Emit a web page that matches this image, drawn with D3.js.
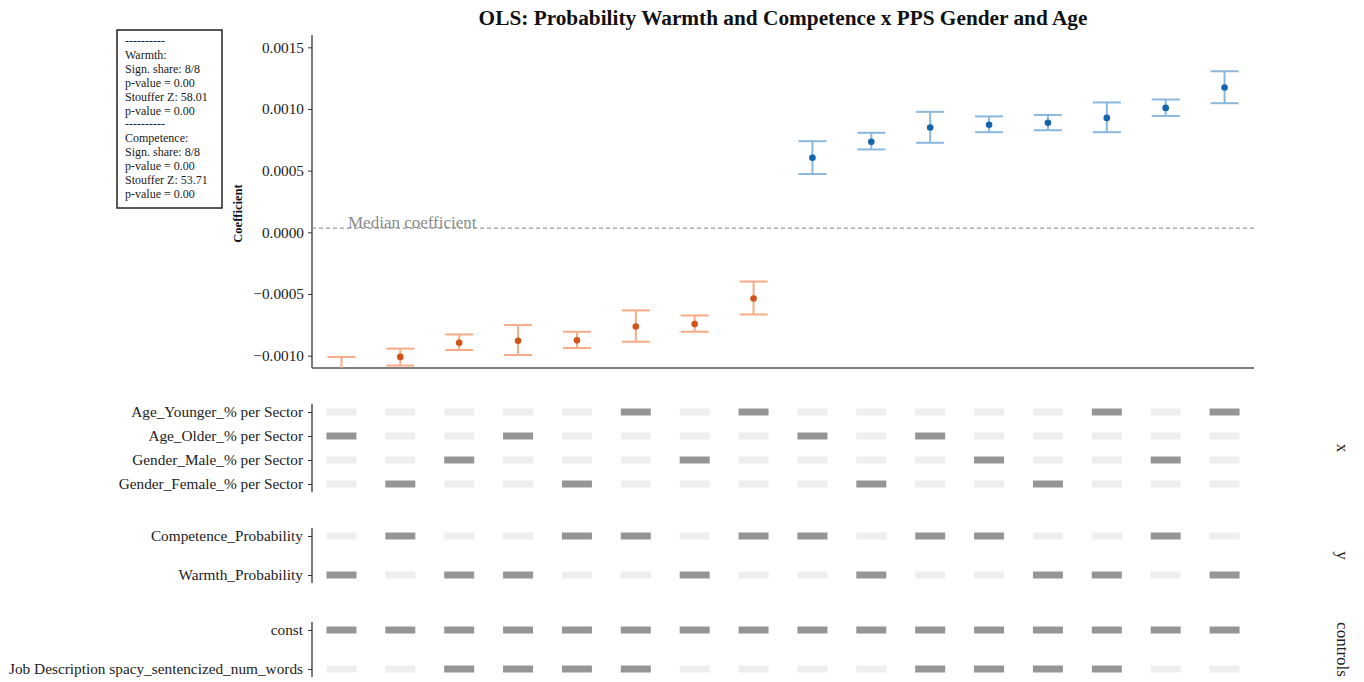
<!DOCTYPE html>
<html>
<head>
<meta charset="utf-8">
<script src="https://cdn.jsdelivr.net/npm/d3@7"></script>
<style>
  html, body { margin: 0; padding: 0; background: #fff; }
  svg { display: block; font-family: "Liberation Serif", "DejaVu Serif", serif; }
</style>
</head>
<body>
<svg id="chart" width="1364" height="682"></svg>
<script>
// Specification curve: coefficient estimates with 95% intervals
const specIds   = d3.range(1, 17);
const coef      = [-0.00114, -0.00101, -0.000895, -0.00088, -0.000876, -0.000763, -0.000744, -0.000536,
                   0.000605, 0.000734, 0.00085, 0.000872, 0.000888, 0.000928, 0.001009, 0.001174];
const ciLow     = [-0.00127, -0.00108, -0.000954, -0.000995, -0.000938, -0.000887, -0.000806, -0.000666,
                   0.000473, 0.000672, 0.000726, 0.000812, 0.000828, 0.000812, 0.000944, 0.001047];
const ciHigh    = [-0.00101, -0.000943, -0.000828, -0.000752, -0.000806, -0.000633, -0.000674, -0.000399,
                   0.000739, 0.000807, 0.000977, 0.00094, 0.000952, 0.001053, 0.001077, 0.001306];
const yTicks    = [-0.0010, -0.0005, 0.0000, 0.0005, 0.0010, 0.0015];

// Specification indicators (1 = included in that specification)
const xRows     = ["Age_Younger_% per Sector", "Age_Older_% per Sector", "Gender_Male_% per Sector", "Gender_Female_% per Sector"];
const xMatrix   = [
  [0,0,0,0,0,1,0,1,0,0,0,0,0,1,0,1],
  [1,0,0,1,0,0,0,0,1,0,1,0,0,0,0,0],
  [0,0,1,0,0,0,1,0,0,0,0,1,0,0,1,0],
  [0,1,0,0,1,0,0,0,0,1,0,0,1,0,0,0]
];
const yRows     = ["Competence_Probability", "Warmth_Probability"];
const yMatrix   = [
  [0,1,0,0,1,1,0,1,1,0,1,1,0,0,1,0],
  [1,0,1,1,0,0,1,0,0,1,0,0,1,1,0,1]
];
const ctrlRows  = ["const", "Job Description spacy_sentencized_num_words"];
const ctrlMatrix = [
  [1,1,1,1,1,1,1,1,1,1,1,1,1,1,1,1],
  [0,0,1,1,1,1,0,0,0,0,1,1,1,1,0,0]
];
const groupNames = ["x", "y", "controls"];

const summaryLines = [
  "----------", "Warmth:", "Sign. share: 8/8", "p-value = 0.00", "Stouffer Z: 58.01", "p-value = 0.00",
  "----------", "Competence:", "Sign. share: 8/8", "p-value = 0.00", "Stouffer Z: 53.71", "p-value = 0.00"
];

const svg = d3.select("#chart");
const plotL = 312, plotR = 1254, plotT = 35, plotB = 368;
const labelSize = 15.3;

const x = d3.scaleBand().domain(specIds).range([plotL, plotR]).paddingInner(0).paddingOuter(0);
const cx = d => x(d) + x.bandwidth() / 2;
const y = d3.scaleLinear().domain([-0.0011, 0.0016]).range([plotB, plotT]);

// Title
svg.append("text")
  .attr("x", 783).attr("y", 25)
  .attr("text-anchor", "middle")
  .attr("font-weight", "bold")
  .attr("font-size", 21.3)
  .attr("fill", "#111")
  .text("OLS: Probability Warmth and Competence x PPS Gender and Age");

// Y axis
const yAxis = d3.axisLeft(y).tickValues(yTicks).tickSize(4).tickPadding(4)
  .tickFormat(d => d3.format(".4f")(d).replace("-", "\u2212"));
const gy = svg.append("g").attr("transform", `translate(${plotL},0)`).call(yAxis);
gy.select(".domain").attr("stroke", "#333").attr("stroke-width", 1.3).attr("d", `M0,${plotT}V${plotB}`);
gy.selectAll(".tick line").attr("stroke", "#333");
gy.selectAll(".tick text").attr("font-size", labelSize).attr("fill", "#222")
  .attr("font-family", "Liberation Serif, serif");

// X baseline
svg.append("line")
  .attr("x1", plotL).attr("x2", plotR).attr("y1", plotB).attr("y2", plotB)
  .attr("stroke", "#555").attr("stroke-width", 1.5);

// Y axis title
svg.append("text")
  .attr("transform", `translate(242,${(plotT + plotB) / 2 + 12}) rotate(-90)`)
  .attr("text-anchor", "middle")
  .attr("font-weight", "bold")
  .attr("font-size", 12.5)
  .attr("fill", "#111")
  .text("Coefficient");

// Median reference line
const median = d3.median(coef);
svg.append("line")
  .attr("x1", plotL).attr("x2", plotR)
  .attr("y1", y(median)).attr("y2", y(median))
  .attr("stroke", "#999").attr("stroke-width", 1.1).attr("stroke-dasharray", "4,3");
svg.append("text")
  .attr("x", 348).attr("y", y(median) - 0.5)
  .attr("font-size", 17)
  .attr("fill", "#8a8a8a")
  .text("Median coefficient");

// Estimates, clipped to the plot area
svg.append("defs").append("clipPath").attr("id", "plotClip")
  .append("rect").attr("x", plotL).attr("y", plotT).attr("width", plotR - plotL).attr("height", plotB - plotT);

const est = specIds.map((id, i) => ({ id, c: coef[i], lo: ciLow[i], hi: ciHigh[i] }));
const barColor = d => d.c < 0 ? "#f6aa86" : "#8ab8dd";
const dotColor = d => d.c < 0 ? "#d2541a" : "#1565ad";
const capHalf = 14;

const gEst = svg.append("g").attr("clip-path", "url(#plotClip)");
const eg = gEst.selectAll("g.est").data(est).join("g").attr("class", "est");
eg.append("line")
  .attr("x1", d => cx(d.id)).attr("x2", d => cx(d.id))
  .attr("y1", d => y(d.lo)).attr("y2", d => y(d.hi))
  .attr("stroke", barColor).attr("stroke-width", 2);
eg.append("line")
  .attr("x1", d => cx(d.id) - capHalf).attr("x2", d => cx(d.id) + capHalf)
  .attr("y1", d => y(d.lo)).attr("y2", d => y(d.lo))
  .attr("stroke", barColor).attr("stroke-width", 2);
eg.append("line")
  .attr("x1", d => cx(d.id) - capHalf).attr("x2", d => cx(d.id) + capHalf)
  .attr("y1", d => y(d.hi)).attr("y2", d => y(d.hi))
  .attr("stroke", barColor).attr("stroke-width", 2);
eg.append("circle")
  .attr("cx", d => cx(d.id)).attr("cy", d => y(d.c))
  .attr("r", 3.3).attr("fill", dotColor);

// Indicator panels
const panels = [
  { rows: xRows, matrix: xMatrix, range: [400, 496], name: groupNames[0] },
  { rows: yRows, matrix: yMatrix, range: [516.5, 594.5], name: groupNames[1] },
  { rows: ctrlRows, matrix: ctrlMatrix, range: [610.5, 688.5], name: groupNames[2] }
];
const cellW = 30, cellH = 7;

panels.forEach(p => {
  const py = d3.scalePoint().domain(p.rows).range(p.range).padding(0.5);
  const ax = d3.axisLeft(py).tickSize(4).tickPadding(5);
  const g = svg.append("g").attr("transform", `translate(${plotL},0)`).call(ax);
  const ys = p.rows.map(r => py(r));
  g.select(".domain").attr("d", `M0,${d3.min(ys) - 8}V${d3.max(ys) + 8}`)
    .attr("stroke", "#333").attr("stroke-width", 1.3);
  g.selectAll(".tick line").attr("stroke", "#333");
  g.selectAll(".tick text").attr("font-size", labelSize).attr("fill", "#222")
    .attr("font-family", "Liberation Serif, serif");

  const cells = [];
  p.rows.forEach((r, ri) => specIds.forEach((id, ci) => cells.push({ r, id, on: p.matrix[ri][ci] })));
  svg.append("g").selectAll("rect").data(cells).join("rect")
    .attr("x", d => cx(d.id) - cellW / 2)
    .attr("y", d => py(d.r) - cellH / 2)
    .attr("width", cellW).attr("height", cellH)
    .attr("fill", d => d.on ? "#959595" : "#eeeeee");

  svg.append("text")
    .attr("transform", `translate(1337,${(d3.min(ys) + d3.max(ys)) / 2}) rotate(90)`)
    .attr("text-anchor", "middle")
    .attr("font-size", 17)
    .attr("fill", "#222")
    .text(p.name);
});

// Summary box
const box = svg.append("g").attr("transform", "translate(117,30)");
box.append("rect").attr("x", 0).attr("y", 0).attr("width", 105).attr("height", 178)
  .attr("fill", "#fff").attr("stroke", "#222").attr("stroke-width", 1.5);
box.selectAll("text").data(summaryLines).join("text")
  .attr("x", 8).attr("y", (d, i) => 15 + i * 13.9)
  .attr("font-size", 12)
  .attr("fill", "#222")
  .text(d => d);
</script>
</body>
</html>
